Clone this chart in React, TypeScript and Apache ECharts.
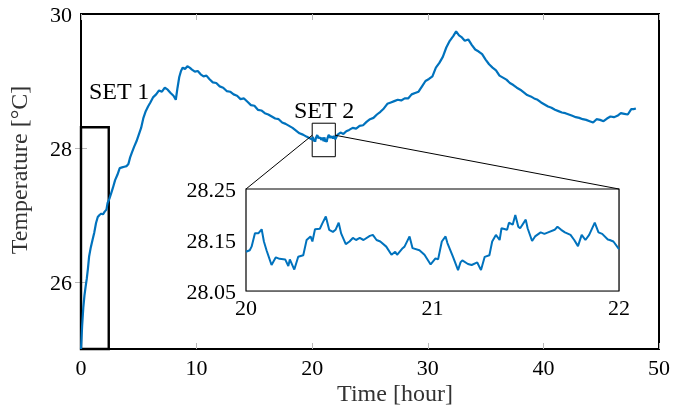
import React, { useEffect, useRef } from "react";
import * as echarts from "echarts";

// ---- main series (before the zoomed window) ----
const earlyTime = [0, 0.1, 0.2, 0.3, 0.4, 0.5, 0.6, 0.7, 0.85, 1.0, 1.15, 1.3, 1.45, 1.6, 1.75, 1.9, 2.05, 2.2, 2.3, 2.45, 2.6, 2.75, 2.95, 3.15, 3.35, 3.55, 3.75, 3.95, 4.1, 4.25, 4.4, 4.6, 4.8, 5.0, 5.2, 5.4, 5.6, 5.8, 6.0, 6.25, 6.5, 6.75, 7.0, 7.25, 7.5, 7.75, 8.0, 8.2, 8.35, 8.5, 8.65, 8.8, 9.0, 9.2, 9.4, 9.6, 9.85, 10.1, 10.35, 10.6, 10.85, 11.1, 11.4, 11.7, 12.0, 12.3, 12.6, 12.9, 13.2, 13.5, 13.8, 14.1, 14.4, 14.7, 15.0, 15.3, 15.6, 15.9, 16.2, 16.5, 16.8, 17.1, 17.4, 17.7, 18.0, 18.3, 18.6, 18.9, 19.2, 19.5, 19.75];
const earlyTemp = [25.0, 25.35, 25.62, 25.8, 25.93, 26.05, 26.2, 26.38, 26.52, 26.63, 26.74, 26.88, 26.97, 27.0, 27.02, 27.01, 27.05, 27.08, 27.18, 27.24, 27.32, 27.4, 27.52, 27.6, 27.7, 27.71, 27.72, 27.73, 27.76, 27.86, 27.93, 28.02, 28.1, 28.2, 28.3, 28.45, 28.55, 28.62, 28.68, 28.76, 28.8, 28.86, 28.84, 28.9, 28.87, 28.82, 28.78, 28.72, 28.9, 29.06, 29.15, 29.2, 29.18, 29.22, 29.2, 29.17, 29.14, 29.15, 29.1, 29.07, 29.08, 29.03, 28.98, 28.97, 28.92, 28.9, 28.85, 28.84, 28.8, 28.78, 28.73, 28.74, 28.69, 28.64, 28.63, 28.57, 28.56, 28.52, 28.5, 28.47, 28.44, 28.43, 28.38, 28.36, 28.33, 28.3, 28.26, 28.22, 28.2, 28.17, 28.15];

// ---- zoomed window 20..22 h (also part of the main series) ----
const insetTime = [20.0, 20.02, 20.03, 20.048, 20.066, 20.084, 20.096, 20.11, 20.137, 20.16, 20.18, 20.21, 20.227, 20.235, 20.259, 20.28, 20.307, 20.325, 20.346, 20.356, 20.37, 20.396, 20.41, 20.428, 20.446, 20.466, 20.48, 20.497, 20.51, 20.535, 20.555, 20.573, 20.59, 20.61, 20.63, 20.664, 20.68, 20.7, 20.72, 20.752, 20.78, 20.8, 20.81, 20.84, 20.85, 20.877, 20.893, 20.93, 20.957, 20.99, 21.016, 21.03, 21.05, 21.07, 21.08, 21.11, 21.137, 21.15, 21.16, 21.19, 21.21, 21.24, 21.26, 21.28, 21.305, 21.32, 21.34, 21.36, 21.37, 21.4, 21.41, 21.43, 21.444, 21.46, 21.47, 21.5, 21.51, 21.534, 21.55, 21.58, 21.6, 21.62, 21.655, 21.67, 21.69, 21.71, 21.74, 21.76, 21.78, 21.8, 21.82, 21.84, 21.87, 21.89, 21.91, 21.94, 21.95, 21.97, 22.0];
const insetTemp = [28.127, 28.13, 28.137, 28.163, 28.163, 28.171, 28.147, 28.13, 28.101, 28.116, 28.113, 28.112, 28.099, 28.112, 28.092, 28.117, 28.12, 28.15, 28.157, 28.147, 28.171, 28.172, 28.183, 28.196, 28.17, 28.166, 28.17, 28.184, 28.163, 28.142, 28.147, 28.154, 28.15, 28.154, 28.15, 28.158, 28.16, 28.15, 28.147, 28.137, 28.121, 28.127, 28.121, 28.134, 28.137, 28.157, 28.134, 28.13, 28.121, 28.102, 28.114, 28.112, 28.147, 28.157, 28.144, 28.117, 28.091, 28.106, 28.11, 28.103, 28.101, 28.106, 28.091, 28.117, 28.12, 28.147, 28.16, 28.15, 28.173, 28.17, 28.184, 28.18, 28.199, 28.176, 28.173, 28.19, 28.173, 28.148, 28.157, 28.165, 28.162, 28.165, 28.17, 28.176, 28.17, 28.165, 28.16, 28.15, 28.138, 28.16, 28.15, 28.16, 28.184, 28.165, 28.162, 28.151, 28.15, 28.147, 28.132];

// ---- main series (after the zoomed window) ----
const lateTime = [22.2, 22.45, 22.7, 22.95, 23.2, 23.5, 23.8, 24.1, 24.4, 24.7, 25.0, 25.3, 25.6, 25.9, 26.2, 26.5, 26.8, 27.1, 27.4, 27.7, 28.0, 28.3, 28.6, 28.9, 29.2, 29.5, 29.8, 30.1, 30.4, 30.7, 31.0, 31.3, 31.6, 31.9, 32.2, 32.45, 32.7, 32.95, 33.2, 33.5, 33.8, 34.1, 34.4, 34.7, 35.0, 35.3, 35.6, 35.9, 36.2, 36.5, 36.8, 37.1, 37.4, 37.7, 38.0, 38.3, 38.6, 38.9, 39.2, 39.5, 39.8, 40.1, 40.4, 40.7, 41.0, 41.3, 41.6, 41.9, 42.2, 42.5, 42.8, 43.1, 43.4, 43.7, 44.0, 44.3, 44.6, 44.9, 45.2, 45.5, 45.8, 46.1, 46.4, 46.7, 47.0, 47.3, 47.6, 47.8, 48.0];
const lateTemp = [28.2, 28.23, 28.21, 28.25, 28.27, 28.3, 28.29, 28.33, 28.34, 28.39, 28.43, 28.45, 28.5, 28.54, 28.59, 28.66, 28.68, 28.7, 28.72, 28.71, 28.74, 28.74, 28.8, 28.82, 28.84, 28.92, 29.0, 29.03, 29.07, 29.2, 29.27, 29.36, 29.5, 29.6, 29.67, 29.74, 29.68, 29.65, 29.6, 29.62, 29.54, 29.47, 29.44, 29.4, 29.32, 29.25, 29.2, 29.16, 29.08, 29.05, 29.02, 28.97, 28.94, 28.9, 28.87, 28.83, 28.79, 28.77, 28.74, 28.72, 28.68, 28.65, 28.62, 28.6, 28.57, 28.55, 28.53, 28.52, 28.5, 28.48, 28.46, 28.45, 28.43, 28.42, 28.4, 28.38, 28.43, 28.42, 28.4, 28.44, 28.47, 28.46, 28.48, 28.52, 28.51, 28.5, 28.58, 28.58, 28.59];

// ---- ticks ----
const mainXTicks = [0, 10, 20, 30, 40, 50];
const mainYLabels = [26, 28, 30];
const mainYTicks = [26, 28];
const insetYLabels = [28.05, 28.15, 28.25];

// ---- annotation boxes [xMin, xMax, yMin, yMax] ----
const set1Box = [0, 2.4, 25, 28.31];
const set2Box = [20, 22, 27.87, 28.37];
const connectorY = 28.19;

const FONT = "Liberation Serif";
const BLUE = "#0072bd";

const zip = (a: number[], b: number[]) => a.map((t, i) => [t, b[i]]);

export default function App() {
  const ref = useRef<HTMLDivElement>(null);
  useEffect(() => {
    const chart = echarts.init(ref.current!, undefined, { renderer: "svg" });
    const mainData = [
      ...zip(earlyTime, earlyTemp),
      ...zip(insetTime, insetTemp),
      ...zip(lateTime, lateTemp),
    ];
    const tickStyle = { show: true, inside: true, length: 6, lineStyle: { color: "#b8b8b8", width: 1 } };
    const labelStyle = { fontFamily: FONT, fontSize: 22, color: "#000" };
    chart.setOption({
      animation: false,
      grid: [
        { left: 81, top: 14, width: 579, height: 335, show: true, borderColor: "#000", borderWidth: 2, backgroundColor: "#fff" },
        { left: 246, top: 189, width: 373, height: 102, show: true, borderColor: "#000", borderWidth: 1.2, backgroundColor: "#fff", z: 5 },
      ],
      xAxis: [
        {
          type: "value", gridIndex: 0, min: mainXTicks[0], max: mainXTicks[mainXTicks.length - 1], interval: 10,
          axisLine: { show: false }, axisTick: tickStyle, splitLine: { show: false },
          axisLabel: { ...labelStyle, margin: 7 },
        },
        {
          type: "value", gridIndex: 0, position: "top", min: 0, max: 50, interval: 10,
          axisLine: { show: false }, axisTick: tickStyle, splitLine: { show: false }, axisLabel: { show: false },
        },
        {
          type: "value", gridIndex: 1, min: 20, max: 22, interval: 1,
          axisLine: { show: false }, axisTick: { show: false },
          splitLine: { show: true, lineStyle: { color: "#d4d4d4", width: 1 } },
          axisLabel: { ...labelStyle, margin: 5 },
        },
      ],
      yAxis: [
        {
          type: "value", gridIndex: 0, min: 25, max: 30,
          axisLine: { show: false }, splitLine: { show: false },
          axisTick: { ...tickStyle, customValues: mainYTicks },
          axisLabel: { ...labelStyle, margin: 9, customValues: mainYLabels },
        },
        {
          type: "value", gridIndex: 0, position: "right", min: 25, max: 30,
          axisLine: { show: false }, splitLine: { show: false },
          axisTick: { ...tickStyle, customValues: mainYTicks },
          axisLabel: { show: false },
        },
        {
          type: "value", gridIndex: 1, min: 28.05, max: 28.25,
          axisLine: { show: false },
          axisTick: { show: false, customValues: insetYLabels },
          splitLine: { show: true, lineStyle: { color: "#d4d4d4", width: 1 } },
          axisLabel: { ...labelStyle, margin: 10, customValues: insetYLabels, formatter: (v: number) => v.toFixed(2) },
        },
      ],
      series: [
        {
          type: "line", xAxisIndex: 0, yAxisIndex: 0, data: mainData, showSymbol: false,
          lineStyle: { color: BLUE, width: 2.2 }, z: 3,
          markArea: {
            silent: true,
            data: [
              [
                { xAxis: set1Box[0], yAxis: set1Box[2], itemStyle: { color: "rgba(0,0,0,0)", borderColor: "#000", borderWidth: 2.4 } },
                { xAxis: set1Box[1], yAxis: set1Box[3] },
              ],
              [
                { xAxis: set2Box[0], yAxis: set2Box[2], itemStyle: { color: "rgba(0,0,0,0)", borderColor: "#000", borderWidth: 1 } },
                { xAxis: set2Box[1], yAxis: set2Box[3] },
              ],
            ],
          },
        },
        {
          type: "line", xAxisIndex: 2, yAxisIndex: 2, data: zip(insetTime, insetTemp), showSymbol: false,
          lineStyle: { color: BLUE, width: 2 }, z: 6,
        },
      ],
    });

    const pL = chart.convertToPixel({ gridIndex: 0 }, [set2Box[0], connectorY]) as number[];
    const pR = chart.convertToPixel({ gridIndex: 0 }, [set2Box[1], connectorY]) as number[];
    const iL = chart.convertToPixel({ gridIndex: 1 }, [20, 28.25]) as number[];
    const iR = chart.convertToPixel({ gridIndex: 1 }, [22, 28.25]) as number[];

    chart.setOption({
      graphic: [
        { type: "line", id: "cl", shape: { x1: pL[0], y1: pL[1], x2: iL[0], y2: iL[1] }, style: { stroke: "#000", lineWidth: 1 }, z: 10 },
        { type: "line", id: "cr", shape: { x1: pR[0], y1: pR[1], x2: iR[0], y2: iR[1] }, style: { stroke: "#000", lineWidth: 1 }, z: 10 },
        { type: "text", id: "s1", x: 89, y: 91, style: { text: "SET 1", font: `24px "${FONT}"`, fill: "#000", verticalAlign: "middle" }, z: 10 },
        { type: "text", id: "s2", x: 294, y: 110, style: { text: "SET 2", font: `24px "${FONT}"`, fill: "#000", verticalAlign: "middle" }, z: 10 },
        { type: "text", id: "yn", x: 19, y: 170, rotation: Math.PI / 2, style: { text: "Temperature [°C]", font: `24px "${FONT}"`, fill: "#333", align: "center", verticalAlign: "middle" }, z: 10 },
        { type: "text", id: "xn", x: 395, y: 393, style: { text: "Time [hour]", font: `24px "${FONT}"`, fill: "#333", align: "center", verticalAlign: "middle" }, z: 10 },
      ],
    });
    return () => chart.dispose();
  }, []);
  return <div ref={ref} style={{ position: "fixed", left: 0, top: 0, width: 673, height: 408 }} />;
}
